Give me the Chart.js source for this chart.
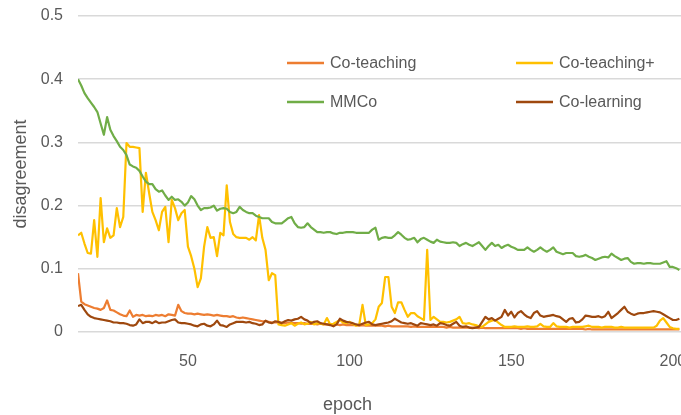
<!DOCTYPE html>
<html>
<head>
<meta charset="utf-8">
<script src="https://cdn.jsdelivr.net/npm/chart.js@4.4.1/dist/chart.umd.min.js"></script>
<style>
  html, body { margin: 0; padding: 0; background: #fff; }
</style>
</head>
<body>
<canvas id="disagreementChart" width="681" height="415"></canvas>
<script>
// epochs shown in the plot (first visible epoch is 16)
const firstEpoch = 16;
const xTicks = [50, 100, 150, 200];
const yTicks = [0, 0.1, 0.2, 0.3, 0.4, 0.5];

const coTeaching = [
  0.093, 0.048, 0.044, 0.042, 0.040, 0.038, 0.037, 0.035, 0.038, 0.050,
  0.035, 0.034, 0.031, 0.028, 0.026, 0.025, 0.034, 0.024, 0.027, 0.026,
  0.027, 0.025, 0.026, 0.025, 0.027, 0.026, 0.027, 0.025, 0.028, 0.027,
  0.026, 0.043, 0.033, 0.030, 0.029, 0.029, 0.028, 0.029, 0.028, 0.027,
  0.028, 0.027, 0.026, 0.027, 0.026, 0.025, 0.025, 0.024, 0.025, 0.023,
  0.022, 0.023, 0.022, 0.021, 0.020, 0.019, 0.018, 0.017, 0.017, 0.016,
  0.015, 0.015, 0.015, 0.015, 0.014, 0.015, 0.014, 0.014, 0.014, 0.013,
  0.014, 0.013, 0.013, 0.013, 0.012, 0.013, 0.012, 0.012, 0.012, 0.012,
  0.012, 0.011, 0.012, 0.011, 0.011, 0.011, 0.011, 0.010, 0.011, 0.010,
  0.010, 0.010, 0.010, 0.010, 0.010, 0.009, 0.010, 0.009, 0.009, 0.009,
  0.009, 0.009, 0.009, 0.008, 0.009, 0.008, 0.008, 0.008, 0.008, 0.008,
  0.008, 0.008, 0.008, 0.008, 0.007, 0.008, 0.007, 0.007, 0.007, 0.007,
  0.007, 0.007, 0.007, 0.007, 0.006, 0.007, 0.006, 0.006, 0.006, 0.006,
  0.006, 0.006, 0.006, 0.006, 0.006, 0.006, 0.006, 0.005, 0.006, 0.005,
  0.005, 0.005, 0.005, 0.005, 0.005, 0.005, 0.005, 0.005, 0.005, 0.005,
  0.005, 0.005, 0.005, 0.005, 0.005, 0.005, 0.005, 0.004, 0.005, 0.004,
  0.004, 0.004, 0.004, 0.004, 0.004, 0.004, 0.004, 0.004, 0.004, 0.004,
  0.004, 0.004, 0.004, 0.004, 0.004, 0.004, 0.004, 0.004, 0.004, 0.004,
  0.004, 0.004, 0.004, 0.004, 0.004, 0.004, 0.004
];

const coTeachingPlus = [
  0.153, 0.157, 0.140, 0.125, 0.124, 0.177, 0.119, 0.212, 0.142, 0.164,
  0.149, 0.153, 0.196, 0.166, 0.182, 0.299, 0.293, 0.293, 0.292, 0.291,
  0.190, 0.252, 0.220, 0.190, 0.177, 0.161, 0.190, 0.198, 0.142, 0.209,
  0.196, 0.177, 0.188, 0.193, 0.135, 0.120, 0.100, 0.071, 0.085, 0.135,
  0.166, 0.149, 0.150, 0.120, 0.157, 0.153, 0.232, 0.174, 0.155, 0.150,
  0.149, 0.149, 0.149, 0.146, 0.150, 0.145, 0.185, 0.149, 0.130, 0.082,
  0.093, 0.090, 0.012, 0.011, 0.010, 0.012, 0.014, 0.010, 0.013, 0.015,
  0.012, 0.013, 0.016, 0.012, 0.014, 0.013, 0.012, 0.022, 0.012, 0.013,
  0.016, 0.019, 0.015, 0.014, 0.016, 0.013, 0.010, 0.012, 0.043, 0.011,
  0.012, 0.014, 0.020, 0.040, 0.046, 0.087, 0.087, 0.040, 0.030, 0.047,
  0.047, 0.035, 0.024, 0.030, 0.030, 0.025, 0.022, 0.019, 0.130, 0.019,
  0.024, 0.020, 0.016, 0.016, 0.015, 0.016, 0.018, 0.020, 0.024, 0.014,
  0.013, 0.014, 0.012, 0.011, 0.009, 0.008, 0.012, 0.016, 0.018, 0.019,
  0.015, 0.011, 0.008, 0.008, 0.008, 0.009, 0.008, 0.008, 0.008, 0.009,
  0.008, 0.008, 0.009, 0.013, 0.009, 0.008, 0.008, 0.014, 0.009, 0.008,
  0.008, 0.008, 0.007, 0.008, 0.008, 0.008, 0.008, 0.009, 0.010, 0.008,
  0.008, 0.008, 0.007, 0.008, 0.008, 0.008, 0.007, 0.007, 0.008, 0.007,
  0.007, 0.007, 0.007, 0.007, 0.007, 0.007, 0.007, 0.007, 0.007, 0.010,
  0.018, 0.022, 0.015, 0.008, 0.006, 0.005, 0.005
];

const mmco = [
  0.400, 0.390, 0.378, 0.370, 0.363, 0.356, 0.348, 0.330, 0.312, 0.340,
  0.320, 0.310, 0.302, 0.293, 0.288, 0.280, 0.265, 0.262, 0.260, 0.255,
  0.246, 0.238, 0.234, 0.234, 0.226, 0.222, 0.224, 0.216, 0.209, 0.214,
  0.209, 0.210, 0.206, 0.200, 0.205, 0.215, 0.210, 0.200, 0.193, 0.196,
  0.196, 0.197, 0.200, 0.192, 0.195, 0.196, 0.195, 0.190, 0.188, 0.190,
  0.198, 0.193, 0.190, 0.188, 0.188, 0.184, 0.182, 0.180, 0.180, 0.180,
  0.174, 0.172, 0.172, 0.172, 0.176, 0.180, 0.182, 0.172, 0.166, 0.165,
  0.166, 0.172, 0.166, 0.162, 0.158, 0.158, 0.157, 0.158, 0.158, 0.156,
  0.155, 0.157, 0.157, 0.158, 0.158, 0.158, 0.157, 0.157, 0.157, 0.157,
  0.157, 0.162, 0.165, 0.146, 0.149, 0.150, 0.149, 0.149, 0.153, 0.158,
  0.154, 0.149, 0.146, 0.147, 0.149, 0.142, 0.147, 0.149, 0.146, 0.143,
  0.141, 0.146, 0.143, 0.142, 0.141, 0.141, 0.142, 0.141, 0.136, 0.139,
  0.141, 0.138, 0.136, 0.139, 0.142, 0.136, 0.130, 0.136, 0.141, 0.136,
  0.138, 0.133, 0.136, 0.138, 0.135, 0.133, 0.130, 0.130, 0.130, 0.134,
  0.130, 0.127, 0.130, 0.134, 0.130, 0.127, 0.130, 0.134, 0.127, 0.125,
  0.123, 0.125, 0.125, 0.125, 0.120, 0.119, 0.120, 0.122, 0.119, 0.117,
  0.114, 0.116, 0.118, 0.119, 0.118, 0.124, 0.120, 0.117, 0.114, 0.116,
  0.117, 0.111, 0.108, 0.109, 0.109, 0.108, 0.109, 0.109, 0.108, 0.108,
  0.108, 0.110, 0.112, 0.103, 0.103, 0.101, 0.098
];

const coLearning = [
  0.041, 0.043, 0.035, 0.028, 0.024, 0.022, 0.021, 0.020, 0.019, 0.018,
  0.017, 0.015, 0.015, 0.014, 0.014, 0.013, 0.011, 0.010, 0.012, 0.020,
  0.014, 0.016, 0.016, 0.014, 0.017, 0.014, 0.015, 0.015, 0.017, 0.019,
  0.020, 0.015, 0.014, 0.014, 0.013, 0.012, 0.010, 0.009, 0.012, 0.013,
  0.010, 0.009, 0.012, 0.018, 0.011, 0.010, 0.008, 0.012, 0.014, 0.016,
  0.016, 0.016, 0.015, 0.016, 0.014, 0.013, 0.011, 0.012, 0.018, 0.015,
  0.014, 0.017, 0.016, 0.014, 0.017, 0.019, 0.018, 0.020, 0.021, 0.024,
  0.020, 0.018, 0.014, 0.016, 0.017, 0.014, 0.013, 0.012, 0.011, 0.009,
  0.012, 0.021, 0.018, 0.016, 0.015, 0.014, 0.012, 0.011, 0.013, 0.015,
  0.016, 0.012, 0.011, 0.012, 0.013, 0.014, 0.015, 0.017, 0.021, 0.018,
  0.015, 0.014, 0.013, 0.014, 0.012, 0.010, 0.014, 0.013, 0.012, 0.011,
  0.012, 0.010, 0.014, 0.013, 0.011, 0.010, 0.013, 0.016, 0.010, 0.008,
  0.009, 0.007, 0.006, 0.007, 0.008, 0.016, 0.024, 0.020, 0.022, 0.018,
  0.021, 0.024, 0.035, 0.026, 0.032, 0.023, 0.030, 0.033, 0.028, 0.024,
  0.022, 0.030, 0.033, 0.026, 0.024, 0.025, 0.026, 0.027, 0.025, 0.024,
  0.020, 0.016, 0.021, 0.022, 0.015, 0.016, 0.020, 0.026, 0.025, 0.024,
  0.024, 0.025, 0.023, 0.025, 0.032, 0.022, 0.026, 0.030, 0.035, 0.040,
  0.032, 0.029, 0.027, 0.029, 0.030, 0.030, 0.031, 0.032, 0.033, 0.032,
  0.031, 0.028, 0.025, 0.022, 0.019, 0.019, 0.021
];

const epochs = coTeaching.map((_, i) => firstEpoch + i);
const legendOrder = ['Co-teaching', 'Co-teaching+', 'MMCo', 'Co-learning'];

const FONT = '"Liberation Sans", Arial, sans-serif';
const TEXT_GREY = '#595959';

function toPoints(values) {
    return values.map((v, i) => ({ x: epochs[i], y: v }));
}

// legend sits inside the plot area, 2 x 2
const boxLegend = {
    id: 'boxLegend',
    afterDraw(chart) {
        const ctx = chart.ctx;
        const area = chart.chartArea;
        ctx.save();
        ctx.font = '16px ' + FONT;
        ctx.textBaseline = 'middle';
        ctx.textAlign = 'left';
        legendOrder.forEach((name, i) => {
            const ds = chart.data.datasets.find(d => d.label === name);
            const x = area.left + 209 + (i % 2) * 229;
            const y = area.top + 47 + Math.floor(i / 2) * 39;
            ctx.strokeStyle = ds.borderColor;
            ctx.lineWidth = 2.5;
            ctx.beginPath();
            ctx.moveTo(x, y);
            ctx.lineTo(x + 37, y);
            ctx.stroke();
            ctx.fillStyle = TEXT_GREY;
            ctx.fillText(name, x + 43, y + 1);
        });
        ctx.restore();
    }
};

// "epoch" title: sits under the 100 tick, not under the middle of the crop
const epochTitle = {
    id: 'epochTitle',
    afterDraw(chart) {
        const ctx = chart.ctx;
        const xs = chart.scales.x;
        ctx.save();
        ctx.font = '18px ' + FONT;
        ctx.fillStyle = TEXT_GREY;
        ctx.textAlign = 'center';
        ctx.textBaseline = 'middle';
        ctx.fillText('epoch', xs.getPixelForValue(100) - 2, xs.bottom - 10);
        ctx.restore();
    }
};

const ctx = document.getElementById('disagreementChart').getContext('2d');
new Chart(ctx, {
    type: 'line',
    data: {
        datasets: [
            { label: 'Co-teaching', data: toPoints(coTeaching), borderColor: '#ED7D31', order: 3 },
            { label: 'Co-teaching+', data: toPoints(coTeachingPlus), borderColor: '#FFC000', order: 2 },
            { label: 'MMCo', data: toPoints(mmco), borderColor: '#70AD47', order: 1 },
            { label: 'Co-learning', data: toPoints(coLearning), borderColor: '#9E480E', order: 0 }
        ]
    },
    options: {
        responsive: false,
        animation: false,
        layout: { padding: { top: 16, right: 0, left: 0, bottom: 0 } },
        elements: {
            point: { radius: 0 },
            line: { borderWidth: 2.2, tension: 0, borderJoinStyle: 'round' }
        },
        scales: {
            x: {
                type: 'linear',
                min: 16,
                max: 202.5,
                grid: { display: false },
                border: { display: false },
                ticks: {
                    color: TEXT_GREY,
                    font: { family: FONT, size: 16 },
                    padding: 12,
                    maxRotation: 0
                },
                afterBuildTicks: scale => {
                    scale.ticks = xTicks.map(v => ({ value: v }));
                },
                afterFit: scale => {
                    scale.height = 83;
                    scale.paddingLeft = 0;
                    scale.paddingRight = 0;
                }
            },
            y: {
                min: 0,
                max: 0.5,
                grid: { color: '#d9d9d9', lineWidth: 1.4, drawTicks: false },
                border: { display: false },
                ticks: {
                    color: TEXT_GREY,
                    font: { family: FONT, size: 16 },
                    padding: 15
                },
                afterBuildTicks: scale => {
                    scale.ticks = yTicks.map(v => ({ value: v }));
                },
                afterFit: scale => {
                    scale.width = 78;
                    scale.paddingTop = 0;
                    scale.paddingBottom = 0;
                },
                title: {
                    display: true,
                    text: 'disagreement',
                    color: TEXT_GREY,
                    font: { family: FONT, size: 18 },
                    padding: { top: 10 }
                }
            }
        },
        plugins: {
            legend: { display: false },
            tooltip: { enabled: false }
        }
    },
    plugins: [boxLegend, epochTitle]
});
</script>
</body>
</html>
